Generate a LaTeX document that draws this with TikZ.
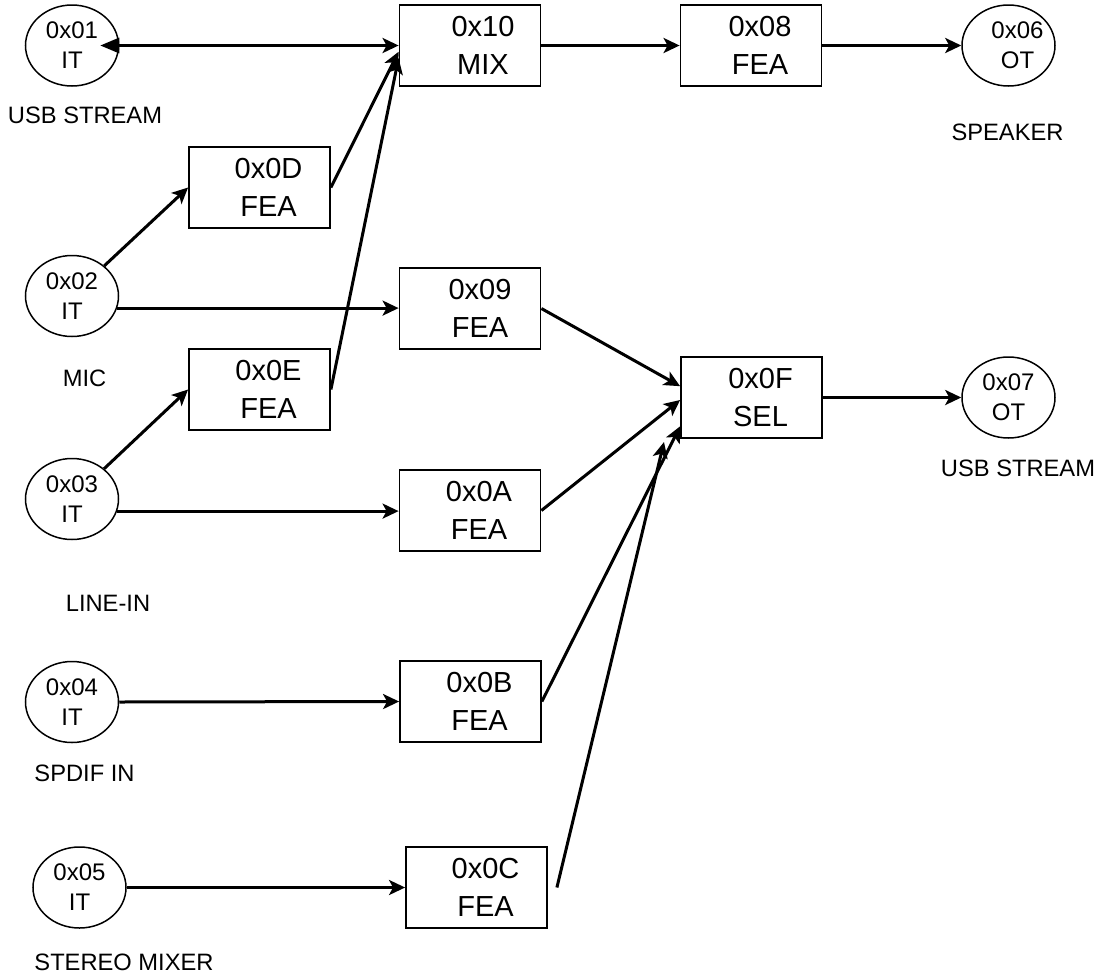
\documentclass[tikz,border=0pt]{standalone}
\usepackage{fontspec}
\setmainfont{Liberation Sans}
\usetikzlibrary{shapes.geometric,arrows.meta,calc}
\begin{document}
\begin{tikzpicture}[x=1pt,y=-1pt,
  ell/.style={draw,ellipse,line width=1.5pt,minimum width=93pt,minimum height=81pt,inner sep=0pt},
  etxt/.style={align=center,inner sep=0pt,font=\fontsize{24}{30}\selectfont},
  blk/.style={draw,rectangle,line width=1.8pt,minimum width=141pt,minimum height=81pt,inner sep=0pt},
  btxt/.style={align=center,inner sep=0pt,font=\fontsize{29}{38}\selectfont},
  lbl/.style={inner sep=0pt,font=\fontsize{23.7}{30}\selectfont},
  conn/.style={line width=3pt,-{Stealth[length=16pt,width=15pt,inset=4pt]}},
]
\useasboundingbox (0,0) rectangle (1104,978);

% input / output terminals
\node[ell,label={[etxt]center:{0x01\\IT}}] (e01) at (72,45.5) {};
\node[ell,label={[etxt]center:{0x02\\IT}}] (e02) at (72,296) {};
\node[ell,label={[etxt]center:{0x03\\IT}}] (e03) at (72,499) {};
\node[ell,label={[etxt]center:{0x04\\IT}}] (e04) at (72,702) {};
\node[ell,label={[etxt]center:{0x05\\IT}}] (e05) at (79.5,887.5) {};
\node[ell,label={[etxt,xshift=9pt]center:{0x06\\OT}}] (e06) at (1008.5,45.5) {};
\node[ell,label={[etxt]center:{0x07\\OT}}] (e07) at (1008.5,397.5) {};

% function blocks
\node[blk,label={[btxt,xshift=13pt]center:{0x10\\MIX}}] (b10) at (470,45.5) {};
\node[blk,label={[btxt,xshift=9pt]center:{0x08\\FEA}}] (b08) at (751,45.5) {};
\node[blk,label={[btxt,xshift=9pt]center:{0x0D\\FEA}}] (b0D) at (259.5,187.5) {};
\node[blk,label={[btxt,xshift=9pt]center:{0x0E\\FEA}}] (b0E) at (259.5,389.5) {};
\node[blk,label={[btxt,xshift=10pt]center:{0x09\\FEA}}] (b09) at (470,308.5) {};
\node[blk,label={[btxt,xshift=9pt]center:{0x0F\\SEL}}] (b0F) at (751.5,397.5) {};
\node[blk,label={[btxt,xshift=9pt]center:{0x0A\\FEA}}] (b0A) at (470,510.5) {};
\node[blk,label={[btxt,xshift=9pt]center:{0x0B\\FEA}}] (b0B) at (470.5,701.5) {};
\node[blk,label={[btxt,xshift=9pt]center:{0x0C\\FEA}}] (b0C) at (476.5,887.5) {};

% captions
\node[lbl] (l1) at (85,115) {USB STREAM};
\node[lbl] (l2) at (84.5,378) {MIC};
\node[lbl] (l3) at (108,603) {LINE-IN};
\node[lbl] (l4) at (84.5,773) {SPDIF IN};
\node[lbl] (l5) at (124,962) {STEREO MIXER};
\node[lbl] (l6) at (1007.5,132) {SPEAKER};
\node[lbl] (l7) at (1018,468) {USB STREAM};

% free ends
\coordinate (c01) at ($(e01.east)+(-19,0)$);
\coordinate (c0Cs) at ($(b0C.east)+(9,0)$);
\coordinate (c0Ce) at (664,442);

% connectors
\draw[line width=3pt,{Triangle[length=19pt,width=15pt]}-{Stealth[length=16pt,width=15pt,inset=4pt]}] (c01) -- (b10.west);
\draw[conn] (b10.east) -- (b08.west);
\draw[conn] (b08.east) -- (e06.west);
\draw[conn] (e02) -- (b0D.west);
\draw[conn] (e02.-15) -- (e02.-15 -| b09.west);
\draw[conn] (e03) -- (b0E.west);
\draw[conn] (e03.-15) -- (e03.-15 -| b0A.west);
\draw[conn] (e04.east) -- (b0B.west);
\draw[conn] (e05.east) -- (b0C.west);
\draw[conn] (b0D.east) -- (b10.185);
\draw[conn] (b0E.east) -- (b10.190);
\draw[conn] (b09.east) -- (b0F.171);
\draw[conn] (b0A.east) -- (b0F.182);
\draw[conn] (b0B.east) -- (b0F.202);
\draw[conn] (c0Cs) -- (c0Ce);
\draw[conn] (b0F.east) -- (e07.west);
\end{tikzpicture}
\end{document}
